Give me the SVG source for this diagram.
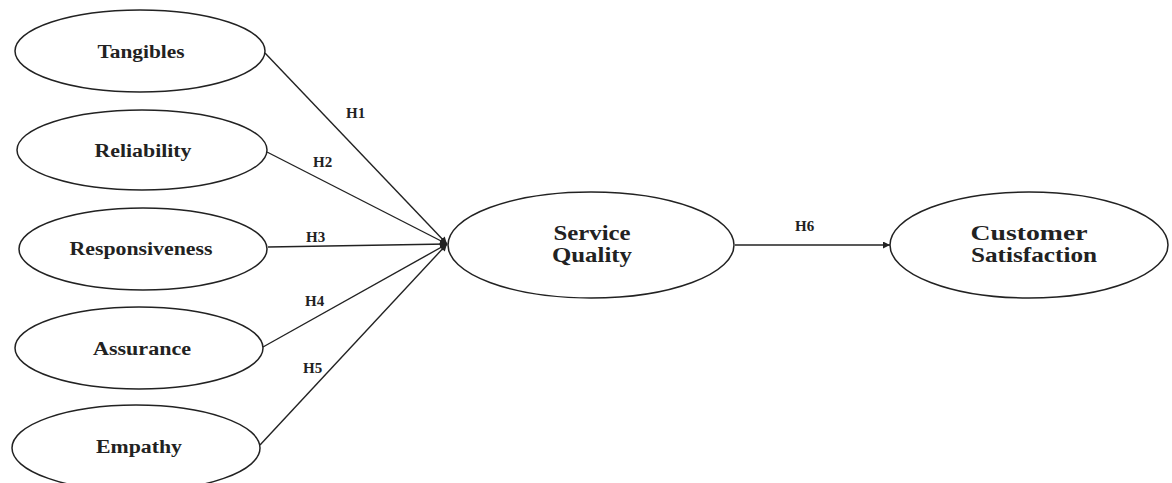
<svg xmlns="http://www.w3.org/2000/svg" width="1172" height="483" viewBox="0 0 1172 483">
<style>
.n{fill:#fff;stroke:#222;stroke-width:1.5}
.t{font-family:"Liberation Serif","Times New Roman",serif;font-weight:bold;font-size:18px;fill:#222;text-anchor:middle}
.b{font-size:21px}
.h{font-family:"Liberation Serif","Times New Roman",serif;font-weight:bold;font-size:15px;fill:#222}
.c{stroke:#222;stroke-width:1.4;fill:none}
</style>
<defs>
<marker id="ar" viewBox="0 0 10 10" refX="10" refY="5" markerWidth="9" markerHeight="7" markerUnits="userSpaceOnUse" orient="auto">
<path d="M0,0 L10,5 L0,10 z" fill="#222"/>
</marker>
</defs>
<rect width="1172" height="483" fill="#fff"/>
<g id="connectors">
<line class="c" x1="265" y1="53" x2="447" y2="244" marker-end="url(#ar)"/>
<line class="c" x1="267" y1="152" x2="447" y2="244" marker-end="url(#ar)"/>
<line class="c" x1="268" y1="247" x2="447" y2="244" marker-end="url(#ar)"/>
<line class="c" x1="263" y1="347" x2="447" y2="244" marker-end="url(#ar)"/>
<line class="c" x1="260" y1="445" x2="447" y2="244" marker-end="url(#ar)"/>
<line class="c" x1="735" y1="245" x2="890" y2="245" marker-end="url(#ar)"/>
<text class="h" x="346" y="118">H1</text>
<text class="h" x="313" y="167">H2</text>
<text class="h" x="306" y="242">H3</text>
<text class="h" x="305" y="306">H4</text>
<text class="h" x="303" y="373">H5</text>
<text class="h" x="795" y="231">H6</text>
</g>
<g id="tangibles">
<ellipse class="n" cx="140" cy="51" rx="125" ry="41"/>
<text class="t" x="141" y="58" textLength="87" lengthAdjust="spacingAndGlyphs">Tangibles</text>
</g>
<g id="reliability">
<ellipse class="n" cx="142" cy="150" rx="125" ry="40"/>
<text class="t" x="143" y="157" textLength="97" lengthAdjust="spacingAndGlyphs">Reliability</text>
</g>
<g id="responsiveness">
<ellipse class="n" cx="143" cy="249" rx="124" ry="41"/>
<text class="t" x="141" y="255" textLength="143" lengthAdjust="spacingAndGlyphs">Responsiveness</text>
</g>
<g id="assurance">
<ellipse class="n" cx="139" cy="348" rx="124" ry="41"/>
<text class="t" x="142" y="355" textLength="98" lengthAdjust="spacingAndGlyphs">Assurance</text>
</g>
<g id="empathy">
<ellipse class="n" cx="136" cy="448" rx="124" ry="43"/>
<text class="t" x="139" y="453" textLength="86" lengthAdjust="spacingAndGlyphs">Empathy</text>
</g>
<g id="service-quality">
<ellipse class="n" cx="591" cy="245" rx="143" ry="53"/>
<text class="t b" x="592" y="240" textLength="77" lengthAdjust="spacingAndGlyphs">Service</text>
<text class="t b" x="592" y="262" textLength="80" lengthAdjust="spacingAndGlyphs">Quality</text>
</g>
<g id="customer-satisfaction">
<ellipse class="n" cx="1029" cy="245" rx="139" ry="53"/>
<text class="t b" x="1029" y="240" textLength="117" lengthAdjust="spacingAndGlyphs">Customer</text>
<text class="t b" x="1034" y="262" textLength="126" lengthAdjust="spacingAndGlyphs">Satisfaction</text>
</g>
</svg>
